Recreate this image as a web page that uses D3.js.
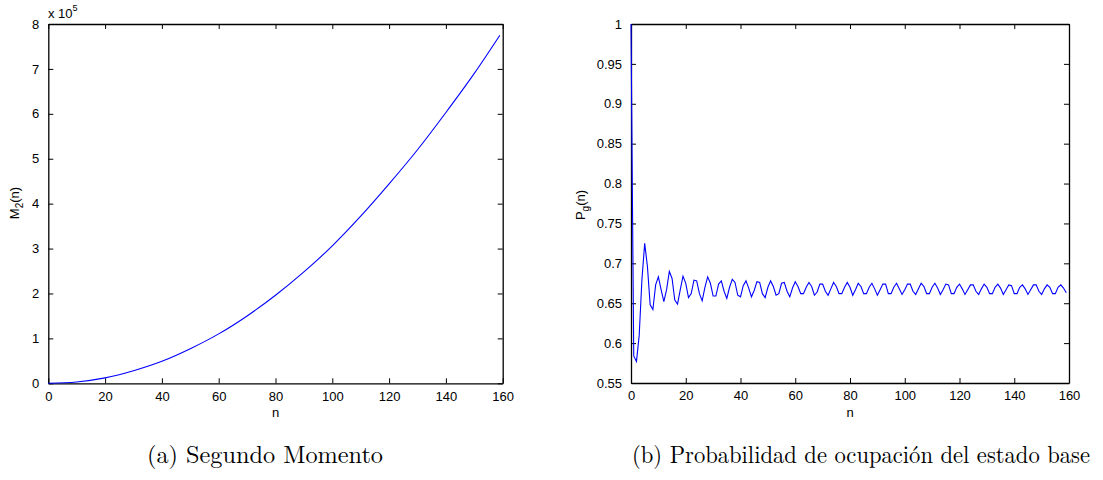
<!DOCTYPE html>
<meta charset="utf-8">
<style>
  body { margin: 0; background: #fff; }
  svg { display: block; }
  .tick text { font-family: "Liberation Sans", Arial, sans-serif; font-size: 13px; fill: #000; }
  .axis path, .axis line { stroke: #000; }
  .lbl { font-family: "Liberation Sans", Arial, sans-serif; font-size: 13px; fill: #000; }
  .cap { font-family: "Latin Modern Roman", "DejaVu Serif", serif; font-size: 24px; fill: #000; }
</style>
<svg width="1103" height="480"></svg>
<script src="https://d3js.org/d3.v7.min.js"></script>
<script>

// (a) second moment, in units of 1e5, read every 10 steps
var m2N = [0, 10, 20, 30, 40, 50, 60, 70, 80, 90, 100, 110, 120, 130, 140, 150, 159];
var m2Values = [0, 0.03, 0.12, 0.28, 0.49, 0.77, 1.10, 1.50, 1.96, 2.48, 3.06, 3.72, 4.44, 5.20, 6.03, 6.90, 7.75];
var m2Ticks = [0, 1, 2, 3, 4, 5, 6, 7, 8];

// (b) ground state occupation, n = 0..159
var pgValues = [
  1.000, 0.584, 0.577, 0.610, 0.680, 0.725, 0.696, 0.648, 0.642, 0.673,
  0.683, 0.667, 0.652, 0.667, 0.690, 0.681, 0.654, 0.649, 0.667, 0.684,
  0.675, 0.657, 0.662, 0.679, 0.678, 0.662, 0.653, 0.670, 0.683, 0.675,
  0.659, 0.659, 0.674, 0.678, 0.665, 0.656, 0.670, 0.680, 0.676, 0.660,
  0.658, 0.672, 0.678, 0.669, 0.658, 0.666, 0.677, 0.676, 0.662, 0.657,
  0.670, 0.678, 0.671, 0.660, 0.662, 0.675, 0.676, 0.665, 0.658, 0.669,
  0.677, 0.671, 0.662, 0.662, 0.670, 0.676, 0.671, 0.660, 0.664, 0.674,
  0.674, 0.665, 0.660, 0.668, 0.676, 0.671, 0.662, 0.662, 0.670, 0.676,
  0.670, 0.660, 0.667, 0.675, 0.671, 0.662, 0.662, 0.670, 0.675, 0.668,
  0.660, 0.667, 0.674, 0.674, 0.662, 0.662, 0.670, 0.675, 0.668, 0.661,
  0.667, 0.674, 0.674, 0.665, 0.661, 0.668, 0.675, 0.671, 0.662, 0.662,
  0.670, 0.675, 0.669, 0.661, 0.667, 0.674, 0.673, 0.662, 0.662, 0.670,
  0.674, 0.668, 0.661, 0.667, 0.673, 0.673, 0.665, 0.661, 0.668, 0.674,
  0.670, 0.662, 0.662, 0.670, 0.674, 0.669, 0.661, 0.667, 0.673, 0.672,
  0.662, 0.662, 0.670, 0.673, 0.668, 0.661, 0.667, 0.673, 0.673, 0.665,
  0.661, 0.668, 0.673, 0.670, 0.662, 0.662, 0.670, 0.673, 0.669, 0.663
];
var pgTicks = [0.55, 0.6, 0.65, 0.7, 0.75, 0.8, 0.85, 0.9, 0.95, 1];
var pgTickLabels = ["0.55", "0.6", "0.65", "0.7", "0.75", "0.8", "0.85", "0.9", "0.95", "1"];
var nTicks = [0, 20, 40, 60, 80, 100, 120, 140, 160];

var captions = ["(a) Segundo Momento", "(b) Probabilidad de ocupación del estado base"];

var svg = d3.select("svg");

function panel(left, right, top, bottom, yDomain, yTicks, yFmt) {
  var x = d3.scaleLinear().domain([0, 160]).range([left, right]);
  var y = d3.scaleLinear().domain(yDomain).range([bottom, top]);
  var g = svg.append("g");

  g.append("g").attr("class", "axis").attr("transform", "translate(0," + bottom + ")")
    .call(d3.axisBottom(x).tickValues(nTicks).tickSizeInner(-5).tickSizeOuter(0).tickPadding(8));
  g.append("g").attr("class", "axis").attr("transform", "translate(0," + top + ")")
    .call(d3.axisTop(x).tickValues(nTicks).tickSizeInner(-5).tickSizeOuter(0).tickFormat(""));
  g.append("g").attr("class", "axis").attr("transform", "translate(" + left + ",0)")
    .call(d3.axisLeft(y).tickValues(yTicks).tickSizeInner(-5).tickSizeOuter(0).tickPadding(9).tickFormat(yFmt));
  g.append("g").attr("class", "axis").attr("transform", "translate(" + right + ",0)")
    .call(d3.axisRight(y).tickValues(yTicks).tickSizeInner(-5).tickSizeOuter(0).tickFormat(""));
  g.selectAll(".axis path").attr("stroke-width", 1.3);

  g.append("text").attr("class", "lbl").attr("x", (left + right) / 2).attr("y", 417)
    .attr("text-anchor", "middle").text("n");
  return { g: g, x: x, y: y };
}

// left panel
var a = panel(48.3, 502.7, 24, 383.3, [0, 8], m2Ticks, d3.format("d"));
a.g.append("path")
  .datum(m2N.map(function(n, i) { return [n, m2Values[i]]; }))
  .attr("fill", "none").attr("stroke", "#0000ff").attr("stroke-width", 1.1)
  .attr("d", d3.line().x(function(d) { return a.x(d[0]); }).y(function(d) { return a.y(d[1]); })
    .curve(d3.curveMonotoneX));
var yl = a.g.append("text").attr("class", "lbl").attr("text-anchor", "middle")
  .attr("transform", "translate(19,203) rotate(-90)");
yl.append("tspan").text("M");
yl.append("tspan").attr("dy", 4).attr("font-size", 10).text("2");
yl.append("tspan").attr("dy", -4).text("(n)");
var ex = a.g.append("text").attr("class", "lbl").attr("x", 48).attr("y", 18);
ex.append("tspan").text("x 10");
ex.append("tspan").attr("dy", -7).attr("font-size", 9).text("5");

// right panel
var b = panel(631, 1069, 24, 383, [0.55, 1], pgTicks, function(d) { return pgTickLabels[pgTicks.indexOf(d)]; });
b.g.append("path")
  .datum(pgValues)
  .attr("fill", "none").attr("stroke", "#0000ff").attr("stroke-width", 1.1)
  .attr("d", d3.line().x(function(d, i) { return b.x(i); }).y(function(d) { return b.y(d); }));
var yr = b.g.append("text").attr("class", "lbl").attr("text-anchor", "middle")
  .attr("transform", "translate(585,205) rotate(-90)");
yr.append("tspan").text("P");
yr.append("tspan").attr("dy", 4).attr("font-size", 10).text("g");
yr.append("tspan").attr("dy", -4).text("(n)");

// captions
var capX = [147, 632], capW = [236, 458];
svg.selectAll(".cap").data(captions).enter().append("text")
  .attr("class", "cap")
  .attr("x", function(d, i) { return capX[i]; })
  .attr("y", 463)
  .attr("textLength", function(d, i) { return capW[i]; })
  .attr("lengthAdjust", "spacingAndGlyphs")
  .text(function(d) { return d; });

</script>
